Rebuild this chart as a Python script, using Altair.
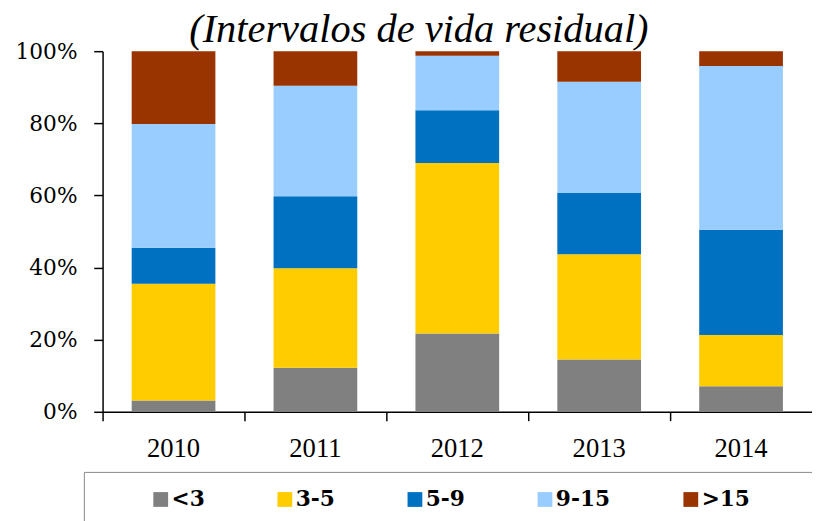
import altair as alt
import pandas as pd

years = ["2010", "2011", "2012", "2013", "2014"]
buckets = ["<3", "3-5", "5-9", "9-15", ">15"]
colors = ["#808080", "#FFCC00", "#0070C0", "#99CCFF", "#993300"]

lt3 = [3.1, 12.2, 21.7, 14.5, 7.1]
b3_5 = [32.4, 27.6, 47.3, 29.2, 14.2]
b5_9 = [10.0, 20.0, 14.6, 17.0, 29.2]
b9_15 = [34.3, 30.6, 15.1, 30.8, 45.4]
gt15 = [20.2, 9.6, 1.3, 8.5, 4.1]

series = [lt3, b3_5, b5_9, b9_15, gt15]
rows = []
for bi, (b, vals) in enumerate(zip(buckets, series)):
    for y, v in zip(years, vals):
        rows.append({"year": y, "bucket": b, "idx": bi, "value": v})
df = pd.DataFrame(rows)

nb = "\u00a0"
blank = "\u2800"
suffix = nb * 2 + blank * 2
chart = (
    alt.Chart(df)
    .mark_bar(width=alt.RelativeBandSize(0.59), strokeWidth=0)
    .encode(
        x=alt.X(
            "year:N",
            title=None,
            scale=alt.Scale(paddingInner=0, paddingOuter=0),
            axis=alt.Axis(
                bandPosition=0,
                labelAngle=0,
                labelFont="Liberation Serif",
                labelFontSize=27,
                labelColor="black",
                labelPadding=15,
                tickSize=9,
                tickColor="black",
                tickWidth=1.5,
                domainColor="black",
                domainWidth=1.5,
            ),
        ),
        y=alt.Y(
            "value:Q",
            stack="normalize",
            title=None,
            scale=alt.Scale(domain=[0, 1]),
            axis=alt.Axis(
                format=".0%",
                values=[0, 0.2, 0.4, 0.6, 0.8, 1.0],
                grid=False,
                labelFont="DejaVu Serif",
                labelFontSize=22,
                labelColor="black",
                labelPadding=17,
                tickSize=9,
                tickColor="black",
                tickWidth=1.5,
                domainColor="black",
                domainWidth=1.5,
            ),
        ),
        color=alt.Color(
            "bucket:N",
            scale=alt.Scale(domain=buckets, range=colors),
            legend=alt.Legend(
                orient="none",
                legendX=-19,
                legendY=427,
                direction="horizontal",
                columns=5,
                title=nb,
                titleOrient="left",
                titleFontSize=10,
                titlePadding=50,
                padding=17,
                strokeColor="#888888",
                symbolType="square",
                symbolSize=225,
                symbolStrokeWidth=0,
                labelFont="DejaVu Serif",
                labelFontWeight="bold",
                labelFontSize=22,
                labelColor="black",
                labelOffset=0,
                columnPadding=70,
                labelExpr="datum.label == '>15' ? datum.label + '" + suffix + "' : datum.label",
            ),
        ),
        order=alt.Order("idx:Q", sort="ascending"),
    )
    .properties(
        width=720,
        height=366,
        autosize=alt.AutoSizeParams(type="none"),
        padding={"left": 96, "top": 40, "right": 0, "bottom": 107},
        title=alt.TitleParams(
            text="(Intervalos de vida residual)",
            font="Liberation Serif",
            fontStyle="italic",
            fontWeight="normal",
            fontSize=41,
            color="black",
            anchor="middle",
            dx=-39,
            dy=49,
            offset=6,
            baseline="alphabetic",
        ),
    )
    .configure_view(stroke=None)
)

chart.save("out.html", embed_options={"renderer": "svg", "actions": False})
